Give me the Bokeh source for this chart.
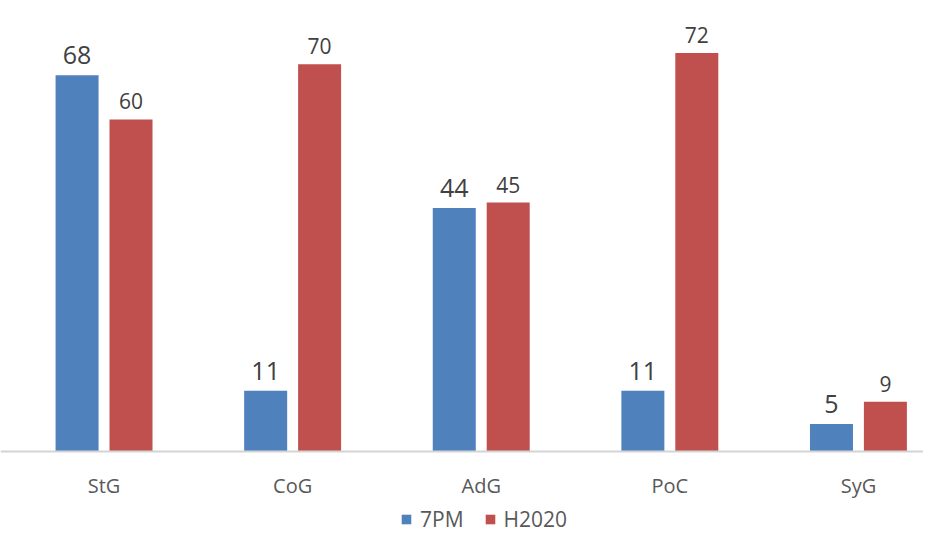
import numpy as np
from bokeh.plotting import figure
from bokeh.models import (ColumnDataSource, Range1d, Span, Legend, LegendItem)
from bokeh.core.properties import value
from bokeh.embed import file_html
from bokeh.resources import INLINE

categories = ["StG", "CoG", "AdG", "PoC", "SyG"]
series_names = ["7PM", "H2020"]
vals_7pm = [68, 11, 44, 11, 5]
vals_h2020 = [60, 70, 45, 72, 9]

BLUE = "#4F81BD"
RED = "#C0504D"
FONT = "Open Sans"

idx = np.arange(len(categories))
off = 0.143
width = 0.228

src_a = ColumnDataSource(dict(x=idx - off, top=vals_7pm, lab=[str(v) for v in vals_7pm]))
src_b = ColumnDataSource(dict(x=idx + off, top=vals_h2020, lab=[str(v) for v in vals_h2020]))
src_c = ColumnDataSource(dict(x=idx, y=np.zeros(len(categories)), lab=categories))

p = figure(width=923, height=533,
           output_backend="svg", toolbar_location=None,
           x_range=Range1d(-0.549, 4.345), y_range=Range1d(-14.8, 81.5),
           min_border_left=0, min_border_right=0, min_border_top=0, min_border_bottom=0)
p.outline_line_color = None
p.xgrid.visible = False
p.ygrid.visible = False
p.xaxis.visible = False
p.yaxis.visible = False
p.background_fill_color = "white"
p.border_fill_color = "white"

ra = p.vbar(x="x", top="top", bottom=0, width=width, source=src_a,
            fill_color=BLUE, line_color=None)
rb = p.vbar(x="x", top="top", bottom=0, width=width, source=src_b,
            fill_color=RED, line_color=None)

# category axis: baseline and labels
p.add_layout(Span(location=0, dimension="width", line_color="#d4d4d4", line_width=2))
p.text(x="x", y="y", text="lab", source=src_c, text_align="center",
       text_baseline="middle", y_offset=34, text_font=value(FONT),
       text_font_size="20px", text_color="#595959")

p.text(x="x", y="top", text="lab", source=src_a, text_align="center",
       text_baseline="alphabetic", y_offset=-20, text_font=value(FONT),
       text_font_size="25px", text_color="#404040")
p.text(x="x", y="top", text="lab", source=src_b, text_align="center",
       text_baseline="alphabetic", y_offset=-18, text_font=value(FONT),
       text_font_size="21px", text_color="#404040")

legend = Legend(items=[LegendItem(label=series_names[0], renderers=[ra]),
                       LegendItem(label=series_names[1], renderers=[rb])],
                orientation="horizontal", location=(400, 0),
                glyph_width=12, glyph_height=12, label_standoff=8, spacing=20,
                label_text_font=FONT, label_text_font_size="21px",
                label_text_color="#595959", border_line_color=None,
                background_fill_alpha=0, padding=0, margin=0)
p.add_layout(legend, "center")

open("out.html", "w").write(file_html(p, INLINE))
